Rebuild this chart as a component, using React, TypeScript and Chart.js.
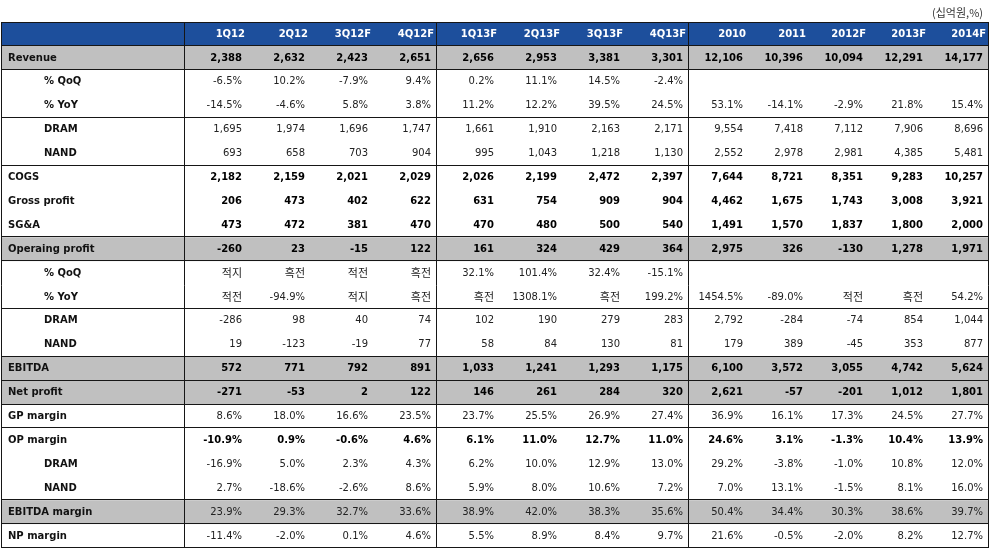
import React, { useEffect, useRef } from "react";
import { Chart, registerables } from "chart.js";

Chart.register(...registerables);

// ---------- data ----------
const quarterCols = ["1Q12", "2Q12", "3Q12F", "4Q12F", "1Q13F", "2Q13F", "3Q13F", "4Q13F"];
const yearCols = ["2010", "2011", "2012F", "2013F", "2014F"];
const unitLabel = "(십억원,%)";

const rowLabels = [
  "Revenue", "% QoQ", "% YoY", "DRAM", "NAND",
  "COGS", "Gross profit", "SG&A",
  "Operaing profit", "% QoQ", "% YoY", "DRAM", "NAND",
  "EBITDA", "Net profit", "GP margin", "OP margin", "DRAM", "NAND",
  "EBITDA margin", "NP margin",
];
const rowKeys = [
  "revenue", "revenueQoQ", "revenueYoY", "dramRevenue", "nandRevenue",
  "cogs", "grossProfit", "sga",
  "operatingProfit", "opQoQ", "opYoY", "dramOp", "nandOp",
  "ebitda", "netProfit", "gpMargin", "opMargin", "dramMargin", "nandMargin",
  "ebitdaMargin", "npMargin",
];

type Cell = number | string | null;

// 8 quarters followed by 5 years
const revenue: Cell[] = [2388, 2632, 2423, 2651, 2656, 2953, 3381, 3301, 12106, 10396, 10094, 12291, 14177];
const revenueQoQ: Cell[] = [-6.5, 10.2, -7.9, 9.4, 0.2, 11.1, 14.5, -2.4, null, null, null, null, null];
const revenueYoY: Cell[] = [-14.5, -4.6, 5.8, 3.8, 11.2, 12.2, 39.5, 24.5, 53.1, -14.1, -2.9, 21.8, 15.4];
const dramRevenue: Cell[] = [1695, 1974, 1696, 1747, 1661, 1910, 2163, 2171, 9554, 7418, 7112, 7906, 8696];
const nandRevenue: Cell[] = [693, 658, 703, 904, 995, 1043, 1218, 1130, 2552, 2978, 2981, 4385, 5481];
const cogs: Cell[] = [2182, 2159, 2021, 2029, 2026, 2199, 2472, 2397, 7644, 8721, 8351, 9283, 10257];
const grossProfit: Cell[] = [206, 473, 402, 622, 631, 754, 909, 904, 4462, 1675, 1743, 3008, 3921];
const sga: Cell[] = [473, 472, 381, 470, 470, 480, 500, 540, 1491, 1570, 1837, 1800, 2000];
const operatingProfit: Cell[] = [-260, 23, -15, 122, 161, 324, 429, 364, 2975, 326, -130, 1278, 1971];
const opQoQ: Cell[] = ["적지", "흑전", "적전", "흑전", 32.1, 101.4, 32.4, -15.1, null, null, null, null, null];
const opYoY: Cell[] = ["적전", -94.9, "적지", "흑전", "흑전", 1308.1, "흑전", 199.2, 1454.5, -89.0, "적전", "흑전", 54.2];
const dramOp: Cell[] = [-286, 98, 40, 74, 102, 190, 279, 283, 2792, -284, -74, 854, 1044];
const nandOp: Cell[] = [19, -123, -19, 77, 58, 84, 130, 81, 179, 389, -45, 353, 877];
const ebitda: Cell[] = [572, 771, 792, 891, 1033, 1241, 1293, 1175, 6100, 3572, 3055, 4742, 5624];
const netProfit: Cell[] = [-271, -53, 2, 122, 146, 261, 284, 320, 2621, -57, -201, 1012, 1801];
const gpMargin: Cell[] = [8.6, 18.0, 16.6, 23.5, 23.7, 25.5, 26.9, 27.4, 36.9, 16.1, 17.3, 24.5, 27.7];
const opMargin: Cell[] = [-10.9, 0.9, -0.6, 4.6, 6.1, 11.0, 12.7, 11.0, 24.6, 3.1, -1.3, 10.4, 13.9];
const dramMargin: Cell[] = [-16.9, 5.0, 2.3, 4.3, 6.2, 10.0, 12.9, 13.0, 29.2, -3.8, -1.0, 10.8, 12.0];
const nandMargin: Cell[] = [2.7, -18.6, -2.6, 8.6, 5.9, 8.0, 10.6, 7.2, 7.0, 13.1, -1.5, 8.1, 16.0];
const ebitdaMargin: Cell[] = [23.9, 29.3, 32.7, 33.6, 38.9, 42.0, 38.3, 35.6, 50.4, 34.4, 30.3, 38.6, 39.7];
const npMargin: Cell[] = [-11.4, -2.0, 0.1, 4.6, 5.5, 8.9, 8.4, 9.7, 21.6, -0.5, -2.0, 8.2, 12.7];

const rowValues: Cell[][] = [
  revenue, revenueQoQ, revenueYoY, dramRevenue, nandRevenue,
  cogs, grossProfit, sga,
  operatingProfit, opQoQ, opYoY, dramOp, nandOp,
  ebitda, netProfit, gpMargin, opMargin, dramMargin, nandMargin,
  ebitdaMargin, npMargin,
];

// row kinds / styles
const percentRows = [1, 2, 9, 10, 15, 16, 17, 18, 19, 20];
const boldRows = [0, 5, 6, 7, 8, 13, 14, 16];
const indentedRows = [1, 2, 3, 4, 9, 10, 11, 12, 17, 18];
const shadedRows = [0, 8, 13, 14, 19];
const lineAfterRows = [-1, 0, 2, 4, 7, 8, 10, 12, 13, 14, 15, 18, 19, 20];

// ---------- layout / style constants ----------
const QUARTER_COL_W = 63;
const YEAR_COL_W = 60;
const LABEL_COL_W = 184;
const HEADER_H = 24;
const CELL_PAD = 6;
const HEADER_PAD = 3;
const HEADER_BG = "#1d4f9c";
const SHADE_BG = "#c0c0c0";
const LINE_COLOR = "#161616";
const FONT = '"DejaVu Sans", "Noto Sans CJK KR", sans-serif';
const KR_FONT = '"Noto Sans CJK KR", "DejaVu Sans", sans-serif';

function formatCell(v: Cell, row: number): string {
  if (v === null || v === undefined) return "";
  if (typeof v === "string") return v;
  if (percentRows.includes(row)) return `${v.toFixed(1)}%`;
  return v.toLocaleString("en-US");
}

const tablePlugin = {
  id: "tableDraw",
  beforeDatasetsDraw(chart: any) {
    const { ctx, chartArea } = chart;
    const y = chart.scales.y;
    const xq = chart.scales.xq;
    const left = y.left;
    const right = chartArea.right;
    ctx.save();
    ctx.fillStyle = HEADER_BG;
    ctx.fillRect(left, xq.top, right - left, xq.bottom - xq.top);
    ctx.fillStyle = SHADE_BG;
    shadedRows.forEach((r) => {
      const t = y.getPixelForValue(r - 0.5);
      const b = y.getPixelForValue(r + 0.5);
      ctx.fillRect(left, t, right - left, b - t);
    });
    ctx.restore();
  },
  afterDatasetsDraw(chart: any) {
    const { ctx, chartArea } = chart;
    const y = chart.scales.y;
    const xq = chart.scales.xq;
    const xa = chart.scales.xa;
    const left = y.left;
    const right = chartArea.right;
    ctx.save();
    ctx.textBaseline = "middle";

    // header labels
    ctx.fillStyle = "#ffffff";
    ctx.font = `bold 10px ${FONT}`;
    ctx.textAlign = "right";
    const headerMid = (xq.top + xq.bottom) / 2;
    [xq, xa].forEach((sc: any) => {
      sc.getLabels().forEach((lab: string, j: number) => {
        ctx.fillText(lab, sc.getPixelForValue(j + 0.5) - HEADER_PAD, headerMid);
      });
    });

    // row labels
    ctx.textAlign = "left";
    ctx.fillStyle = "#111111";
    rowLabels.forEach((lab, r) => {
      const indent = indentedRows.includes(r) ? 43 : 7;
      ctx.fillText(lab, left + indent, y.getPixelForValue(r));
    });

    // cell values, positioned by dataset points
    ctx.textAlign = "right";
    chart.data.datasets.forEach((ds: any, i: number) => {
      const meta = chart.getDatasetMeta(i);
      const sc = chart.scales[meta.xAxisID];
      const half = (sc.getPixelForValue(1) - sc.getPixelForValue(0)) / 2;
      const row = ds.rowIndex;
      const bold = boldRows.includes(row);
      const numFont = `${bold ? "bold " : ""}10px ${FONT}`;
      ctx.fillStyle = bold ? "#000000" : "#222222";
      meta.data.forEach((el: any, j: number) => {
        const raw = ds.data[j].v;
        const txt = formatCell(raw, row);
        if (!txt) return;
        ctx.font = typeof raw === "string" ? `11px ${KR_FONT}` : numFont;
        ctx.fillText(txt, el.x + half - CELL_PAD, el.y);
      });
    });

    // grid lines
    ctx.strokeStyle = LINE_COLOR;
    ctx.lineWidth = 1;
    ctx.beginPath();
    const snap = (p: number) => Math.round(p) - 0.5;
    const top = snap(xq.top + 1);
    ctx.moveTo(left, top);
    ctx.lineTo(right, top);
    lineAfterRows.forEach((r) => {
      const p = snap(y.getPixelForValue(r + 0.5));
      ctx.moveTo(left, p);
      ctx.lineTo(right, p);
    });
    const bottom = y.getPixelForValue(rowLabels.length - 0.5);
    const verticals = [left + 1, y.right, xq.getPixelForValue(3.5), xa.left, right];
    verticals.forEach((vx) => {
      const p = snap(vx);
      ctx.moveTo(p, top);
      ctx.lineTo(p, bottom);
    });
    ctx.stroke();

    // unit label
    ctx.font = `11px ${KR_FONT}`;
    ctx.fillStyle = "#333333";
    ctx.textAlign = "right";
    ctx.fillText(unitLabel, right - 6, xq.top - 9);
    ctx.restore();
  },
};

export default function App() {
  const canvasRef = useRef<HTMLCanvasElement | null>(null);

  useEffect(() => {
    const canvas = canvasRef.current;
    if (!canvas) return;

    const datasets: any[] = [];
    rowValues.forEach((vals, r) => {
      datasets.push({
        type: "line",
        xAxisID: "xq",
        yAxisID: "y",
        rowIndex: r,
        showLine: false,
        pointRadius: 0,
        pointHoverRadius: 0,
        data: quarterCols.map((c, j) => ({ x: c, y: rowKeys[r], v: vals[j] })),
      });
      datasets.push({
        type: "line",
        xAxisID: "xa",
        yAxisID: "y",
        rowIndex: r,
        showLine: false,
        pointRadius: 0,
        pointHoverRadius: 0,
        data: yearCols.map((c, j) => ({ x: c, y: rowKeys[r], v: vals[quarterCols.length + j] })),
      });
    });

    const hiddenAxis = {
      grid: { display: false },
      border: { display: false },
      ticks: { display: false },
      title: { display: false },
    };

    const chart = new Chart(canvas, {
      type: "line",
      data: { datasets },
      plugins: [tablePlugin],
      options: {
        responsive: false,
        maintainAspectRatio: false,
        animation: false,
        events: [],
        layout: { padding: { left: 1, top: 22, right: 0, bottom: 1 } },
        plugins: { legend: { display: false }, tooltip: { enabled: false } },
        scales: {
          xa: {
            type: "category",
            labels: yearCols,
            position: "top",
            offset: true,
            stack: "cols",
            stackWeight: yearCols.length * YEAR_COL_W,
            ...hiddenAxis,
            afterFit: (s: any) => {
              s.height = HEADER_H;
            },
          },
          xq: {
            type: "category",
            labels: quarterCols,
            position: "top",
            offset: true,
            stack: "cols",
            stackWeight: quarterCols.length * QUARTER_COL_W,
            ...hiddenAxis,
            afterFit: (s: any) => {
              s.height = HEADER_H;
            },
          },
          y: {
            type: "category",
            labels: rowKeys,
            position: "left",
            offset: true,
            ...hiddenAxis,
            afterFit: (s: any) => {
              s.width = LABEL_COL_W;
            },
          },
        },
      } as any,
    });

    return () => chart.destroy();
  }, []);

  return (
    <div style={{ position: "absolute", left: 0, top: 0, width: 989, height: 549, background: "#fff" }}>
      <canvas ref={canvasRef} width={989} height={549} style={{ display: "block" }} />
    </div>
  );
}
